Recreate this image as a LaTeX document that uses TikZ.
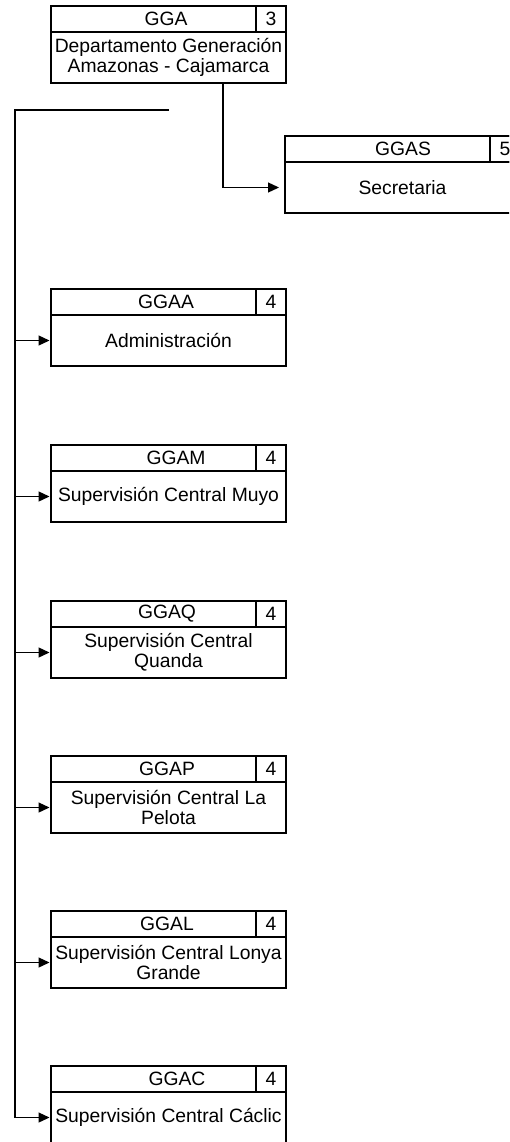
\documentclass[tikz,border=0pt]{standalone}
\usepackage{fontspec}
\setmainfont{Liberation Sans}
\usetikzlibrary{arrows.meta,calc}
\newcommand\unitfont{\fontsize{19.3}{20}\selectfont}
\tikzset{
  unitbox/.style={draw, line width=1.1pt, minimum width=235pt, inner sep=0pt, outer sep=0pt},
  hdr/.style={unitbox, minimum height=26pt},
  numcell/.style={unitbox, minimum width=30pt, minimum height=26pt, font=\unitfont},
  bodybox/.style={unitbox, minimum height=51pt, align=center, font=\unitfont},
  codetext/.style={font=\unitfont, inner sep=0pt},
  trunk/.style={line width=2pt},
  branch/.style={line width=1.3pt, -{Triangle[length=11pt,width=10pt]}, shorten >=1.5pt},
}
% #1 name, #2 left x, #3 top y, #4 code, #5 number, #6 body text, #7 code offset
\newcommand\orgunit[7]{%
  \node[hdr, anchor=north west] (#1h) at (#2,#3) {};
  \node[numcell, anchor=north east] (#1n) at (#1h.north east) {#5};
  \node[codetext] (#1c) at ($(#1h.west)+(#7,0)$) {#4};
  \node[bodybox, anchor=north west] (#1) at (#1h.south west) {#6};
}
\begin{document}
\begin{tikzpicture}[x=1pt,y=-1pt]
\useasboundingbox (0,0) rectangle (509,1142);
\clip (0,0) rectangle (509,1142);

\orgunit{gga}{51}{6}{GGA}{3}{Departamento Generación\\Amazonas - Cajamarca}{115}
\orgunit{ggas}{285}{136}{GGAS}{5}{Secretaria}{118}
\orgunit{ggaa}{51}{289}{GGAA}{4}{Administración}{115}
\orgunit{ggam}{51}{445}{GGAM}{4}{Supervisión Central Muyo}{125}
\orgunit{ggaq}{51}{601}{GGAQ}{4}{Supervisión Central\\Quanda}{116}
\orgunit{ggap}{51}{756}{GGAP}{4}{Supervisión Central La\\Pelota}{116}
\orgunit{ggal}{51}{911}{GGAL}{4}{Supervisión Central Lonya\\Grande}{116}
\orgunit{ggac}{51}{1066}{GGAC}{4}{Supervisión Central Cáclic}{126}

% connector from GGA to Secretaria
\draw[branch, shorten >=6pt] ([xshift=54.5pt]gga.south) |- (ggas.west);

% trunk
\coordinate (tstart) at (169,110);
\coordinate (tcorner) at (15,110);
\draw[trunk] (tstart) -- (tcorner) -- (tcorner |- ggac.west);
\foreach \n in {ggaa,ggam,ggaq,ggap,ggal,ggac}
  \draw[branch] (tcorner |- \n.west) -- (\n.west);
\end{tikzpicture}
\end{document}
